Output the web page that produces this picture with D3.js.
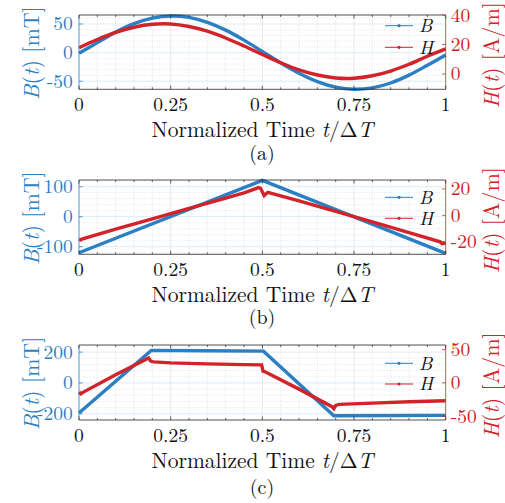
<!DOCTYPE html>
<html>
<head>
<meta charset="utf-8">
<script src="https://cdn.jsdelivr.net/npm/d3@7"></script>
<style>
body { margin: 0; background: #fff; }
</style>
</head>
<body>
<svg id="chart" width="505" height="503"></svg>
<script>
// Data ===================================================================
var xTicks = [0, 0.25, 0.5, 0.75, 1];
var xTickLabels = ["0", "0.25", "0.5", "0.75", "1"];

// (a) sine excitation
var sineT = [0, 0.05, 0.1, 0.15, 0.2, 0.25, 0.3, 0.35, 0.4, 0.45, 0.5,
             0.55, 0.6, 0.65, 0.7, 0.75, 0.8, 0.85, 0.9, 0.95, 1];
var sineB = [-1, 17.5, 35.8, 50.5, 60.2, 64, 61.5, 53, 39.3, 21.8, 2,
             -17.9, -36, -50.6, -60.3, -64, -61.5, -53, -39.3, -22, -4];
var sineH = [17.8, 23.4, 28.2, 31.7, 33.7, 33.9, 32.2, 29.0, 24.4, 19.0, 13.2,
             7.6, 2.8, -0.7, -2.7, -2.9, -1.2, 2.0, 6.6, 12.0, 17.0];
var sineBTicks = [-50, 0, 50];
var sineHTicks = [0, 20, 40];
var sineBDomain = [-64, 65.7];
var sineHDomain = [-10.4, 40];

// (b) triangular excitation
var triBT = [0, 0.5, 1];
var triB = [-120, 121, -122];
var triHT = [0, 0.005, 0.01, 0.1, 0.2, 0.3, 0.4, 0.45, 0.49, 0.495, 0.505, 0.515,
             0.6, 0.7, 0.8, 0.9, 0.985, 0.99, 1];
var triH = [-18.0, -18.6, -17.8, -10.5, -2.6, 5.3, 13.0, 17.0, 21.0, 20.5, 15.0, 17.5,
            11.0, 3.0, -5.0, -13.0, -20.0, -21.5, -21.0];
var triBTicks = [-100, 0, 100];
var triHTicks = [-20, 0, 20];
var triBDomain = [-125.3, 122.3];
var triHDomain = [-29.5, 26.8];

// (c) trapezoidal excitation
var trapBT = [0, 0.197, 0.35, 0.503, 0.695, 1];
var trapB = [-195, 211, 209, 206, -212, -210];
var trapHT = [0, 0.005, 0.012, 0.1, 0.19, 0.195, 0.2, 0.205, 0.25, 0.35, 0.45, 0.498,
              0.502, 0.51, 0.6, 0.69, 0.695, 0.7, 0.71, 0.8, 0.9, 1];
var trapH = [-14, -16.5, -14, 12, 37.5, 33, 32, 31.5, 30, 28.5, 27.5, 27,
             17.5, 16, -9.5, -36, -39, -34, -32.5, -30.5, -28.5, -27];
var trapBTicks = [-200, 0, 200];
var trapHTicks = [-50, 0, 50];
var trapBDomain = [-240, 246];
var trapHDomain = [-56, 57];

// Setup =================================================================
var BLUE = "#2b7fc3";
var RED = "#d2232a";
var DARK = "#262626";
var svg = d3.select("#chart").style("font-family", "Latin Modern Roman, Liberation Serif, serif");
var left = 79, right = 445.7;
var x = d3.scaleLinear().domain([0, 1]).range([left, right]);

var panels = [
  { top: 15, bottom: 89.3, bT: sineT, b: sineB, hT: sineT, h: sineH,
    bDom: sineBDomain, hDom: sineHDomain, bTicks: sineBTicks, hTicks: sineHTicks,
    curve: d3.curveCatmullRom, legY: [25.7, 47.3], cap: "(a)", capY: 160 },
  { top: 180, bottom: 254.3, bT: triBT, b: triB, hT: triHT, h: triH,
    bDom: triBDomain, hDom: triHDomain, bTicks: triBTicks, hTicks: triHTicks,
    curve: d3.curveLinear, legY: [197.3, 218.3], cap: "(b)", capY: 323.5 },
  { top: 345, bottom: 420, bT: trapBT, b: trapB, hT: trapHT, h: trapH,
    bDom: trapBDomain, hDom: trapHDomain, bTicks: trapBTicks, hTicks: trapHTicks,
    curve: d3.curveLinear, legY: [363.3, 384], cap: "(c)", capY: 494 }
];

function minors(ticks, n) {
  var out = [];
  var step = (ticks[1] - ticks[0]) / n;
  for (var v = ticks[0] - 5 * step * n; v <= ticks[ticks.length - 1] + 5 * step * n; v += step) {
    out.push(Math.round(v * 1000) / 1000);
  }
  return out;
}

panels.forEach(drawPanel);

function drawPanel(p) {
  var yB = d3.scaleLinear().domain(p.bDom).range([p.bottom, p.top]);
  var yH = d3.scaleLinear().domain(p.hDom).range([p.bottom, p.top]);
  var g = svg.append("g");

  // minor grid (dotted)
  var xMinor = minors(xTicks, 5).filter(function(v) { return v > 0 && v < 1 && xTicks.indexOf(v) < 0; });
  g.selectAll(".gxm").data(xMinor).enter().append("line")
    .attr("x1", x).attr("x2", x).attr("y1", p.top).attr("y2", p.bottom)
    .attr("stroke", "#cfcfcf").attr("stroke-width", 0.6).attr("stroke-dasharray", "1,1.5");
  var yMinor = minors(p.bTicks, 5).filter(function(v) {
    return v > p.bDom[0] && v < p.bDom[1] && p.bTicks.indexOf(v) < 0;
  });
  g.selectAll(".gym").data(yMinor).enter().append("line")
    .attr("x1", left).attr("x2", right).attr("y1", yB).attr("y2", yB)
    .attr("stroke", "#cfd9e3").attr("stroke-width", 0.6).attr("stroke-dasharray", "1,1.5");

  // major grid
  g.selectAll(".gx").data(xTicks.slice(1, -1)).enter().append("line")
    .attr("x1", x).attr("x2", x).attr("y1", p.top).attr("y2", p.bottom)
    .attr("stroke", "#dedede").attr("stroke-width", 0.7);
  g.selectAll(".gy").data(p.bTicks).enter().append("line")
    .attr("x1", left).attr("x2", right).attr("y1", yB).attr("y2", yB)
    .attr("stroke", "#d6e6f3").attr("stroke-width", 0.8);

  // data lines
  var lineB = d3.line().x(function(d) { return x(d[0]); }).y(function(d) { return yB(d[1]); }).curve(p.curve);
  var lineH = d3.line().x(function(d) { return x(d[0]); }).y(function(d) { return yH(d[1]); }).curve(p.curve);
  g.append("path").datum(d3.zip(p.bT, p.b)).attr("d", lineB)
    .attr("fill", "none").attr("stroke", BLUE).attr("stroke-width", 3.4);
  g.append("path").datum(d3.zip(p.hT, p.h)).attr("d", lineH)
    .attr("fill", "none").attr("stroke", RED).attr("stroke-width", 3.4);

  // box
  g.append("line").attr("x1", left).attr("x2", right).attr("y1", p.top).attr("y2", p.top)
    .attr("stroke", DARK).attr("stroke-width", 0.8);
  g.append("line").attr("x1", left).attr("x2", right).attr("y1", p.bottom).attr("y2", p.bottom)
    .attr("stroke", DARK).attr("stroke-width", 0.8);
  g.append("line").attr("x1", left).attr("x2", left).attr("y1", p.top).attr("y2", p.bottom)
    .attr("stroke", BLUE).attr("stroke-width", 0.8);
  g.append("line").attr("x1", right).attr("x2", right).attr("y1", p.top).attr("y2", p.bottom)
    .attr("stroke", RED).attr("stroke-width", 0.8);

  // x ticks (inside), major and minor, top and bottom
  var allX = xTicks.concat(xMinor);
  allX.forEach(function(v) {
    var len = xTicks.indexOf(v) >= 0 ? 3.6 : 2;
    g.append("line").attr("x1", x(v)).attr("x2", x(v)).attr("y1", p.bottom).attr("y2", p.bottom - len)
      .attr("stroke", DARK).attr("stroke-width", 0.7);
    g.append("line").attr("x1", x(v)).attr("x2", x(v)).attr("y1", p.top).attr("y2", p.top + len)
      .attr("stroke", DARK).attr("stroke-width", 0.7);
  });
  // y ticks
  p.bTicks.forEach(function(v) {
    g.append("line").attr("x1", left).attr("x2", left + 3.6).attr("y1", yB(v)).attr("y2", yB(v))
      .attr("stroke", BLUE).attr("stroke-width", 0.8);
  });
  p.hTicks.forEach(function(v) {
    g.append("line").attr("x1", right).attr("x2", right - 3.6).attr("y1", yH(v)).attr("y2", yH(v))
      .attr("stroke", RED).attr("stroke-width", 0.8);
  });

  // tick labels
  g.selectAll(".xl").data(xTicks).enter().append("text")
    .attr("x", x).attr("y", p.bottom + 21.6).attr("text-anchor", "middle")
    .attr("font-size", 19.5).attr("fill", "#111")
    .text(function(d, i) { return xTickLabels[i]; });
  g.selectAll(".bl").data(p.bTicks).enter().append("text")
    .attr("x", left - 6.3).attr("y", function(d) { return yB(d) + 6.5; }).attr("text-anchor", "end")
    .attr("font-size", 19.5).attr("fill", BLUE)
    .text(function(d) { return d; });
  g.selectAll(".hl").data(p.hTicks).enter().append("text")
    .attr("x", right + 5).attr("y", function(d) { return yH(d) + 6.5; }).attr("text-anchor", "start")
    .attr("font-size", 19.5).attr("fill", RED)
    .text(function(d) { return d; });

  // axis labels
  var xl = g.append("text").attr("x", (left + right) / 2).attr("y", p.bottom + 47.5)
    .attr("text-anchor", "middle").attr("font-size", 21.5).attr("fill", "#111");
  xl.append("tspan").text("Normalized Time ");
  xl.append("tspan").attr("font-style", "italic").text("t");
  xl.append("tspan").text("/\u0394");
  xl.append("tspan").attr("font-style", "italic").text("T");

  var mid = (p.top + p.bottom) / 2;
  var bl = g.append("text").attr("transform", "translate(39," + (mid + 1) + ") rotate(-90)")
    .attr("text-anchor", "middle").attr("font-size", 22).attr("fill", BLUE);
  bl.append("tspan").attr("font-style", "italic").text("B");
  bl.append("tspan").text("(");
  bl.append("tspan").attr("font-style", "italic").text("t");
  bl.append("tspan").text(") [mT]");

  var hl = g.append("text").attr("transform", "translate(499," + (mid + 3) + ") rotate(-90)")
    .attr("text-anchor", "middle").attr("font-size", 22).attr("fill", RED);
  hl.append("tspan").attr("font-style", "italic").text("H");
  hl.append("tspan").text("(");
  hl.append("tspan").attr("font-style", "italic").text("t");
  hl.append("tspan").text(") [A/m]");

  // caption
  g.append("text").attr("x", 262).attr("y", p.capY).attr("text-anchor", "middle")
    .attr("font-size", 20).attr("fill", "#111").text(p.cap);

  // legend
  var leg = [{ name: "B", c: BLUE }, { name: "H", c: RED }];
  leg.forEach(function(d, i) {
    var ly = p.legY[i];
    g.append("line").attr("x1", 385).attr("x2", 413).attr("y1", ly).attr("y2", ly)
      .attr("stroke", d.c).attr("stroke-width", 1);
    g.append("circle").attr("cx", 399).attr("cy", ly).attr("r", 1.6).attr("fill", d.c);
    g.append("text").attr("x", 419).attr("y", ly + 6.3).attr("font-size", 19)
      .attr("font-style", "italic").attr("fill", "#111").text(d.name);
  });
}
</script>
</body>
</html>
